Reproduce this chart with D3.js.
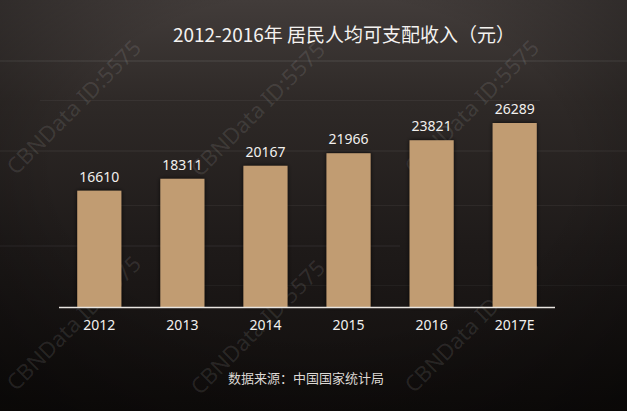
<!DOCTYPE html>
<html><head><meta charset="utf-8">
<script src="https://cdn.jsdelivr.net/npm/d3@7"></script>
<style>html,body{margin:0;padding:0;background:#1a1716;}svg{display:block;}</style>
</head><body>
<script>
const categories = ["2012","2013","2014","2015","2016","2017E"];
const values = [16610,18311,20167,21966,23821,26289];
const titleText = "2012-2016年 居民人均可支配收入（元）";
const sourceText = "数据来源：中国国家统计局";
const watermarkText = "CBNData ID:5575";

const W = 627, H = 411;
const svg = d3.select("body").append("svg").attr("width", W).attr("height", H);
const defs = svg.append("defs");
const bg = defs.append("linearGradient").attr("id","bg").attr("x1",0).attr("y1",0).attr("x2",0).attr("y2",1);
bg.append("stop").attr("offset","0%").attr("stop-color","#423c3a");
bg.append("stop").attr("offset","25%").attr("stop-color","#2e2927");
bg.append("stop").attr("offset","60%").attr("stop-color","#1e1a19");
bg.append("stop").attr("offset","100%").attr("stop-color","#100d0c");
const vg = defs.append("radialGradient").attr("id","vig").attr("cx","50%").attr("cy","40%").attr("r","75%");
vg.append("stop").attr("offset","55%").attr("stop-color","#000").attr("stop-opacity",0);
vg.append("stop").attr("offset","100%").attr("stop-color","#000").attr("stop-opacity",0.4);
const sh = defs.append("filter").attr("id","shadow").attr("x","-20%").attr("y","-20%").attr("width","140%").attr("height","140%");
sh.append("feDropShadow").attr("dx",0).attr("dy",0).attr("stdDeviation",2).attr("flood-color","#000").attr("flood-opacity",0.8);

svg.append("rect").attr("width",W).attr("height",H).attr("fill","url(#bg)");
// faint wood-grain streaks
const streaks = [[0,60,627,2,0.06],[40,100,500,1,0.05],[0,150,627,2,0.04],[100,205,527,1,0.05],[0,245,400,2,0.04],[200,285,427,1,0.04]];
svg.append("g").selectAll("rect").data(streaks).join("rect")
  .attr("x",d=>d[0]).attr("y",d=>d[1]).attr("width",d=>d[2]).attr("height",d=>d[3])
  .attr("fill","#ffffff").attr("fill-opacity",d=>d[4]);
svg.append("rect").attr("width",W).attr("height",H).attr("fill","url(#vig)");

// watermarks
const wmPos = [[16,176],[200,178],[414,176],[16,392],[200,396],[414,394]];
svg.append("g").selectAll("text").data(wmPos).join("text")
  .attr("transform", d => `translate(${d[0]},${d[1]}) rotate(-45)`)
  .attr("font-family","Noto Sans, sans-serif").attr("font-size",22)
  .attr("fill","#ffffff").attr("fill-opacity",0.1)
  .text(watermarkText);

const x = d3.scaleBand().domain(categories).range([59, 555]).paddingInner(0.47).paddingOuter(0.22);
const y = d3.scaleLinear().domain([0, 26289]).range([307, 123]);

svg.append("g").selectAll("rect").data(values).join("rect")
  .attr("x",(d,i)=>x(categories[i])).attr("width",x.bandwidth())
  .attr("y",d=>y(d)).attr("height",d=>y(0)-y(d))
  .attr("fill","#c19c72").attr("filter","url(#shadow)");

svg.append("line").attr("x1",59).attr("x2",555).attr("y1",y(0)+0.5).attr("y2",y(0)+0.5)
  .attr("stroke","#e8e4e0").attr("stroke-width",1.5);

svg.append("g").selectAll("text").data(values).join("text")
  .attr("x",(d,i)=>x(categories[i])+x.bandwidth()/2).attr("y",d=>y(d)-9)
  .attr("text-anchor","middle").attr("font-family","Noto Sans, sans-serif").attr("font-size",14)
  .attr("fill","#f2f0ee").text(d=>d);

const xAxis = svg.append("g").attr("transform",`translate(0,${y(0)})`)
  .call(d3.axisBottom(x).tickSize(0).tickPadding(13));
xAxis.select(".domain").remove();
xAxis.selectAll("text").attr("font-family","Noto Sans, sans-serif").attr("font-size",14).attr("fill","#f2f0ee");

svg.append("text").attr("x",344).attr("y",42).attr("text-anchor","middle")
  .attr("font-family","Noto Sans CJK SC, sans-serif").attr("font-size",19).attr("fill","#f4f2f0")
  .text(titleText);

svg.append("text").attr("x",306).attr("y",383).attr("text-anchor","middle")
  .attr("font-family","Noto Sans CJK SC, sans-serif").attr("font-size",13).attr("fill","#dcd8d4")
  .text(sourceText);
</script>
</body></html>
